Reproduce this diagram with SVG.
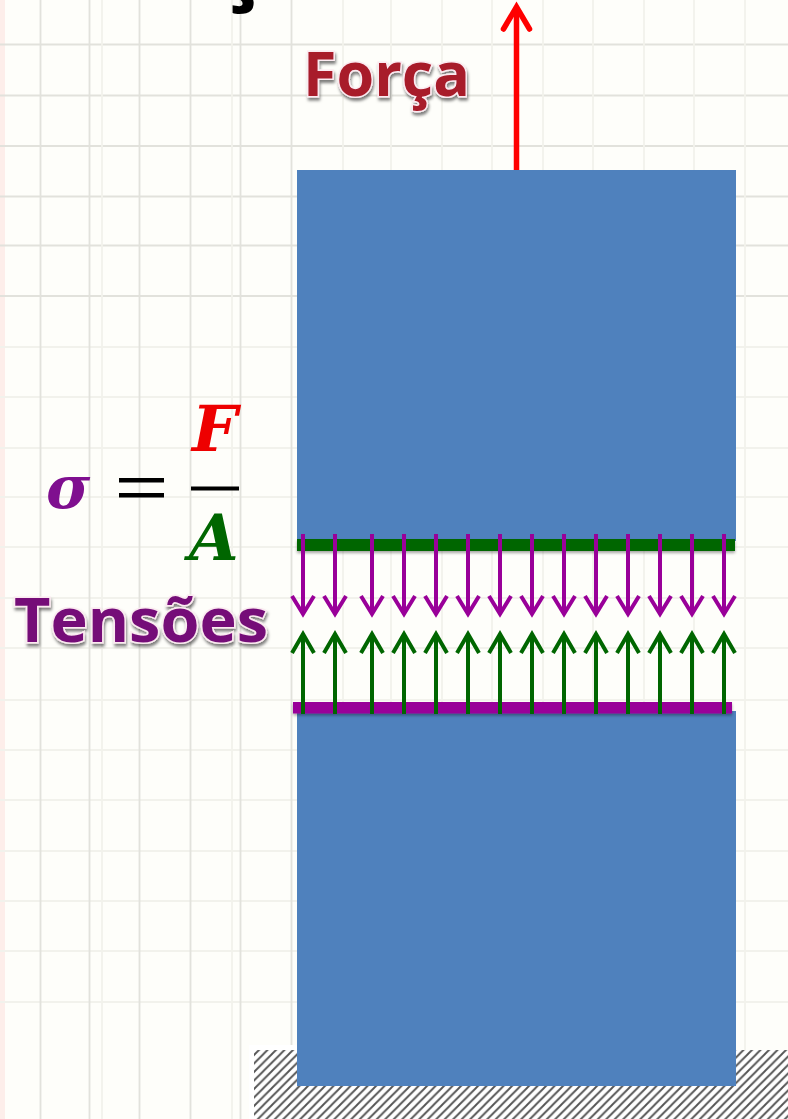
<svg xmlns="http://www.w3.org/2000/svg" xmlns:xlink="http://www.w3.org/1999/xlink" width="788" height="1119" viewBox="0 0 788 1119">
<style>
.gv{stroke:#e2e2dc;stroke-width:1.8;fill:none}
.gf{stroke:#f2f2ec;stroke-width:1.8;fill:none}
.lbl{font-family:"Open Sans","Noto Sans","Liberation Sans",sans-serif;font-weight:700;stroke:#fbeaf0;stroke-width:3;paint-order:stroke;filter:url(#sh)}
.math{font-family:"DejaVu Serif",serif;font-weight:700;font-style:italic}
.pu{stroke:#990099;stroke-width:4;fill:none}
.gr{stroke:#006600;stroke-width:4;fill:none}
</style>
<defs>
<filter id="sh" x="-10%" y="-10%" width="125%" height="130%"><feDropShadow dx="1" dy="3" stdDeviation="1.5" flood-color="#000" flood-opacity="0.5"/></filter>
<filter id="bs" x="-2%" y="-50%" width="104%" height="220%"><feDropShadow dx="0" dy="2" stdDeviation="1.5" flood-color="#000" flood-opacity="0.35"/></filter>
<pattern id="hatch" width="8.500" height="8.500" patternUnits="userSpaceOnUse">
<rect width="8.500" height="8.500" fill="#fff"/>
<path d="M-2 2L2 -2M0 8.500L8.500 0M6.500 10.500L10.500 6.500" stroke="#555" stroke-width="1.900"/>
</pattern>
<path id="dn" d="M0 0V80M-11 62L0 80L11 62"/>
<path id="up" d="M0 0V-80M-11 -61L0 -80L11 -61"/>
</defs>
<rect id="bg" width="788" height="1119" fill="#fefefa"/>
<rect id="left-edge" width="5" height="1119" fill="#fdeeea"/>
<g id="grid">
<path class="gv" d="M0 44.500H788M0 95.500H788M0 146H788M0 196.500H788M0 245.500H788M0 296H788"/>
<path class="gf" d="M0 347H788M0 397H788M0 448H788M0 497H788M0 547H788M0 598H788M0 648H788M0 700H788M0 750H788M0 800H788M0 851H788M0 901H788M0 951H788M0 1002H788"/>
<path class="gv" d="M40.500 0V1119M89.500 0V1119M139.500 0V1119M190.500 0V1119M240.500 0V1119M291.500 0V1119"/>
<path class="gf" d="M102 0V1119M232 0V1119M343 0V1119M391 0V1119M442 0V1119M492 0V1119M543 0V1119M593 0V1119M644 0V1119M694 0V1119M745 0V1119"/>
</g>
<text id="title-fragment" x="215" y="-9.500" font-family="Open Sans,sans-serif" font-weight="700" font-size="95" fill="#000">ç</text>
<g id="ground">
<rect x="249" y="1045" width="48" height="74" fill="#fff"/>
<rect x="254" y="1050" width="534" height="69" fill="url(#hatch)"/>
</g>
<g id="bar-top"><rect x="297" y="170" width="439" height="371" fill="#4f81bd"/></g>
<g id="bar-bottom"><rect x="297" y="711" width="439" height="375" fill="#4f81bd"/></g>
<g id="section-top"><rect x="297" y="539" width="438" height="12" fill="#006600" filter="url(#bs)"/></g>
<g id="section-bottom"><rect x="293" y="702" width="439" height="11.500" fill="#990099" filter="url(#bs)"/></g>
<g id="connectors">
<path id="force" d="M516.500 170V8" fill="none" stroke="#ff0000" stroke-width="5.500"/>
<path id="force-head" d="M503.500 29L516.500 7L529.500 29" fill="none" stroke="#ff0000" stroke-width="5.500" stroke-linecap="round"/>
<g id="stress-down" class="pu">
<use xlink:href="#dn" href="#dn" x="303" y="534"/><use xlink:href="#dn" href="#dn" x="335" y="534"/><use xlink:href="#dn" href="#dn" x="372" y="534"/><use xlink:href="#dn" href="#dn" x="404" y="534"/><use xlink:href="#dn" href="#dn" x="436" y="534"/><use xlink:href="#dn" href="#dn" x="468" y="534"/><use xlink:href="#dn" href="#dn" x="500" y="534"/><use xlink:href="#dn" href="#dn" x="532" y="534"/><use xlink:href="#dn" href="#dn" x="564" y="534"/><use xlink:href="#dn" href="#dn" x="596" y="534"/><use xlink:href="#dn" href="#dn" x="628" y="534"/><use xlink:href="#dn" href="#dn" x="660" y="534"/><use xlink:href="#dn" href="#dn" x="692" y="534"/><use xlink:href="#dn" href="#dn" x="724" y="534"/>
</g>
<g id="stress-up" class="gr">
<use xlink:href="#up" href="#up" x="303" y="714"/><use xlink:href="#up" href="#up" x="335" y="714"/><use xlink:href="#up" href="#up" x="372" y="714"/><use xlink:href="#up" href="#up" x="404" y="714"/><use xlink:href="#up" href="#up" x="436" y="714"/><use xlink:href="#up" href="#up" x="468" y="714"/><use xlink:href="#up" href="#up" x="500" y="714"/><use xlink:href="#up" href="#up" x="532" y="714"/><use xlink:href="#up" href="#up" x="564" y="714"/><use xlink:href="#up" href="#up" x="596" y="714"/><use xlink:href="#up" href="#up" x="628" y="714"/><use xlink:href="#up" href="#up" x="660" y="714"/><use xlink:href="#up" href="#up" x="692" y="714"/><use xlink:href="#up" href="#up" x="724" y="714"/>
</g>
</g>
<g id="label-forca"><text class="lbl" x="303" y="96" font-size="60" textLength="167" lengthAdjust="spacingAndGlyphs" fill="#a81c2c">Força</text></g>
<g id="label-tensoes"><text class="lbl" x="14" y="642" font-size="60" textLength="254" lengthAdjust="spacingAndGlyphs" fill="#741078">Tensões</text></g>
<g id="formula">
<text class="math" x="46" y="508" font-size="60" fill="#7f0f8f">σ</text>
<rect x="119" y="478" width="45" height="4.500" fill="#000"/>
<rect x="119" y="493" width="45" height="4.500" fill="#000"/>
<text class="math" x="192" y="451" font-size="64" fill="#ee0000">F</text>
<rect x="191" y="486.500" width="48" height="4" fill="#000"/>
<text class="math" x="189" y="560" font-size="64" fill="#006600">A</text>
</g>
</svg>
